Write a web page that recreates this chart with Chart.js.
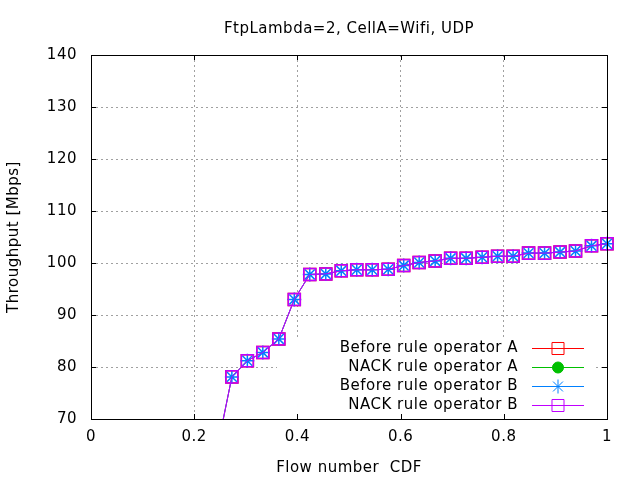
<!DOCTYPE html>
<html>
<head>
<meta charset="utf-8">
<script src="https://cdn.jsdelivr.net/npm/chart.js@4"></script>
<style>
  html, body { margin: 0; padding: 0; background: #fff; }
  #wrap { width: 640px; height: 480px; }
</style>
</head>
<body>
<div id="wrap"><canvas id="chart"></canvas></div>
<script>
// Flow number CDF (x) and throughput in Mbps (y)
const flowCdf = [0.242, 0.273, 0.303, 0.333, 0.364, 0.394, 0.424, 0.455, 0.485, 0.515, 0.545, 0.576, 0.606,
                 0.636, 0.667, 0.697, 0.727, 0.758, 0.788, 0.818, 0.848, 0.879, 0.909, 0.939, 0.970, 1.0];
const beforeA = [63.0, 78.1, 81.2, 82.8, 85.4, 93.0, 97.8, 97.9, 98.5, 98.7, 98.7, 98.8, 99.5,
                 100.1, 100.4, 100.9, 100.9, 101.1, 101.3, 101.3, 101.9, 101.9, 102.1, 102.3, 103.3, 103.7];
// no green marks are visible inside the plotted range
const nackA = [];
const beforeB = [63.0, 78.1, 81.2, 82.8, 85.4, 93.0, 97.8, 97.9, 98.5, 98.7, 98.7, 98.8, 99.5,
                 100.1, 100.4, 100.9, 100.9, 101.1, 101.3, 101.3, 101.9, 101.9, 102.1, 102.3, 103.3, 103.7];
const nackB = [63.0, 78.1, 81.2, 82.8, 85.4, 93.0, 97.8, 97.9, 98.5, 98.7, 98.7, 98.8, 99.5,
               100.1, 100.4, 100.9, 100.9, 101.1, 101.3, 101.3, 101.9, 101.9, 102.1, 102.3, 103.3, 103.7];

const seriesLabels = ['Before rule operator A', 'NACK rule operator A', 'Before rule operator B', 'NACK rule operator B'];
const xTicks = [0, 0.2, 0.4, 0.6, 0.8, 1];
const yTicks = [70, 80, 90, 100, 110, 120, 130, 140];

const FONT = 'DejaVu Sans';
Chart.defaults.font.family = FONT;
Chart.defaults.font.size = 15;
Chart.defaults.color = '#000';

const toPoints = (ys) => ys.map((y, i) => ({ x: flowCdf[i], y }));

// Build a dataset in the gnuplot "linespoints" look
// (order: lower value is painted on top, so operator B purple ends up uppermost)
const makeSeries = (label, values, color, style, radius, fill, order) => ({
    label,
    order,
    data: toPoints(values),
    borderColor: color,
    borderWidth: 1,
    pointStyle: style,
    pointRadius: radius,
    pointHoverRadius: radius,
    pointBorderColor: color,
    pointBackgroundColor: fill ? color : 'rgba(0,0,0,0)',
    pointBorderWidth: 1.5,
    tension: 0,
    clip: { left: 0, top: 10, right: 10, bottom: 0 }
});

const datasets = [
    makeSeries(seriesLabels[0], beforeA, '#ff0000', 'rect', 8.5, false, 3),
    makeSeries(seriesLabels[1], nackA, '#00c000', 'circle', 5.5, true, 2),
    makeSeries(seriesLabels[2], beforeB, '#0080ff', 'star', 7, false, 1),
    makeSeries(seriesLabels[3], nackB, '#c000ff', 'rect', 8.5, false, 0)
];

// Opaque key box, legend entries, frame and inward tick marks
const gnuplotFrame = {
    id: 'gnuplotFrame',
    beforeDraw(chart) {
        // gnuplot's png text is spaced a little wider
        chart.ctx.letterSpacing = '0.5px';
    },
    beforeDatasetsDraw(chart) {
        const { ctx, chartArea: a } = chart;
        ctx.save();
        ctx.fillStyle = '#fff';
        ctx.fillRect(a.right - 330, a.bottom - 81, 318, 81);
        ctx.restore();
    },
    afterDatasetsDraw(chart) {
        const { ctx, chartArea: a } = chart;
        ctx.save();

        // legend
        ctx.font = `15px "${FONT}"`;
        ctx.textAlign = 'right';
        ctx.textBaseline = 'middle';
        chart.data.datasets.forEach((ds, i) => {
            const y = a.bottom - 71 + i * 19;
            ctx.fillStyle = '#000';
            ctx.fillText(ds.label, a.right - 89, y);
            ctx.strokeStyle = ds.borderColor;
            ctx.lineWidth = 1;
            ctx.setLineDash([]);
            ctx.beginPath();
            ctx.moveTo(a.right - 75, y + 0.5);
            ctx.lineTo(a.right - 23, y + 0.5);
            ctx.stroke();
            ctx.fillStyle = ds.pointBackgroundColor;
            ctx.strokeStyle = ds.pointBorderColor;
            ctx.lineWidth = 1;
            Chart.helpers.drawPoint(ctx, {
                pointStyle: ds.pointStyle,
                radius: ds.pointRadius,
                rotation: 0,
                borderWidth: 1
            }, a.right - 49, y + 0.5);
        });

        // frame
        ctx.strokeStyle = '#000';
        ctx.lineWidth = 1;
        ctx.strokeRect(Math.round(a.left) + 0.5, Math.round(a.top) + 0.5,
            Math.round(a.right - a.left), Math.round(a.bottom - a.top));

        // inward tick marks on all four sides
        const xs = chart.scales.x, ys = chart.scales.y;
        const tl = 5;
        ctx.beginPath();
        xTicks.forEach(v => {
            const px = Math.round(xs.getPixelForValue(v)) + 0.5;
            ctx.moveTo(px, a.bottom); ctx.lineTo(px, a.bottom - tl);
            ctx.moveTo(px, a.top); ctx.lineTo(px, a.top + tl);
        });
        yTicks.forEach(v => {
            const py = Math.round(ys.getPixelForValue(v)) + 0.5;
            ctx.moveTo(a.left, py); ctx.lineTo(a.left + tl, py);
            ctx.moveTo(a.right, py); ctx.lineTo(a.right - tl, py);
        });
        ctx.stroke();
        ctx.restore();
    }
};

new Chart(document.getElementById('chart').getContext('2d'), {
    type: 'line',
    data: { datasets },
    plugins: [gnuplotFrame],
    options: {
        responsive: true,
        maintainAspectRatio: false,
        animation: false,
        devicePixelRatio: 1,
        layout: { padding: { left: 0, right: 33, top: 0, bottom: 0 } },
        plugins: {
            legend: { display: false },
            tooltip: { enabled: false },
            title: {
                display: true,
                text: 'FtpLambda=2, CellA=Wifi, UDP',
                fullSize: false,
                color: '#000',
                font: { family: FONT, size: 15, weight: 'normal', lineHeight: 1.2 },
                padding: { top: 20, bottom: 17 }
            }
        },
        scales: {
            x: {
                type: 'linear',
                min: 0,
                max: 1,
                afterFit: (scale) => { scale.height = 61; },
                afterBuildTicks: (scale) => { scale.ticks = xTicks.map(v => ({ value: v })); },
                ticks: {
                    padding: 9,
                    maxRotation: 0,
                    callback: (v) => String(+v.toFixed(1))
                },
                grid: { color: '#a0a0a0', lineWidth: 1, drawTicks: false },
                border: { display: false, dash: [2, 3] },
                title: {
                    display: true,
                    text: 'Flow number  CDF',
                    font: { family: FONT, size: 15 },
                    padding: { top: 0, bottom: 3 }
                }
            },
            y: {
                type: 'linear',
                min: 70,
                max: 140,
                afterFit: (scale) => { scale.width = 91; },
                afterBuildTicks: (scale) => { scale.ticks = yTicks.map(v => ({ value: v })); },
                ticks: { padding: 14 },
                grid: { color: '#a0a0a0', lineWidth: 1, drawTicks: false },
                border: { display: false, dash: [2, 3] },
                title: {
                    display: true,
                    text: 'Throughput [Mbps]',
                    font: { family: FONT, size: 15 },
                    padding: { top: 5, bottom: 0 }
                }
            }
        }
    }
});
</script>
</body>
</html>
